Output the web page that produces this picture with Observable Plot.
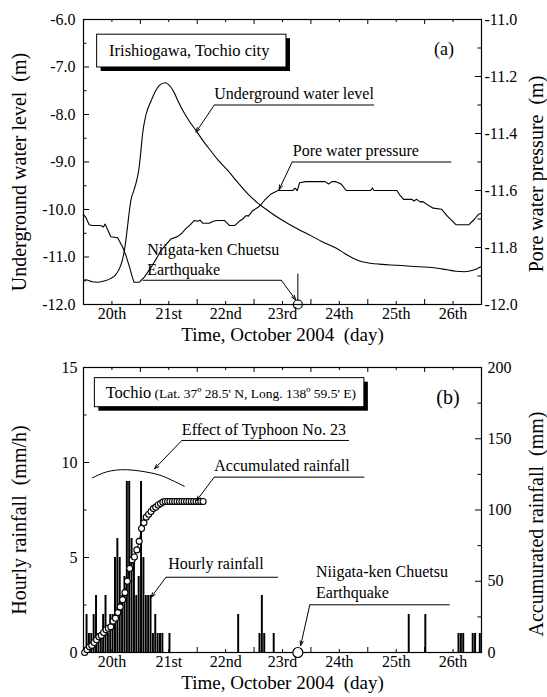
<!DOCTYPE html>
<html><head><meta charset="utf-8">
<script src="https://cdn.jsdelivr.net/npm/d3@7"></script>
<script src="https://cdn.jsdelivr.net/npm/@observablehq/plot@0.6"></script>
<style>
body{margin:0;background:#fff;}
#chart{width:547px;}
#chart svg{display:block;}
</style></head><body><div id="chart"></div>
<script>
// ---------- shared ----------
const dayLabels = ["20th","21st","22nd","23rd","24th","25th","26th"];
const eqDay = 23.77; // Niigata-ken Chuetsu Earthquake, 23 Oct 17:56

// ---------- panel (a) ----------
const gwlDay = [20.00,20.04,20.15,20.25,20.38,20.48,20.56,20.63,20.68,20.72,20.75,20.78,20.81,20.84,20.88,20.92,20.96,20.98,21.01,21.04,21.10,21.19,21.26,21.34,21.44,21.52,21.60,21.66,21.75,21.85,21.98,22.10,22.19,22.36,22.54,22.72,22.89,23.06,23.24,23.42,23.60,23.80,24.00,24.20,24.44,24.60,24.75,24.90,25.05,25.20,25.40,25.60,25.80,26.00,26.20,26.40,26.55,26.70,26.85,27.00];
const gwlLevel = [-11.49,-11.48,-11.52,-11.53,-11.50,-11.45,-11.38,-11.25,-11.08,-10.86,-10.60,-10.30,-10.00,-9.77,-9.62,-9.46,-9.25,-9.10,-8.76,-8.40,-8.00,-7.71,-7.52,-7.38,-7.33,-7.40,-7.55,-7.71,-7.92,-8.12,-8.34,-8.55,-8.69,-8.95,-9.18,-9.44,-9.67,-9.86,-10.02,-10.17,-10.30,-10.43,-10.55,-10.68,-10.81,-10.93,-11.03,-11.10,-11.13,-11.15,-11.17,-11.18,-11.20,-11.21,-11.23,-11.27,-11.30,-11.31,-11.28,-11.20];

const pwpDay = [20.00,20.04,20.10,20.16,20.30,20.35,20.38,20.42,20.48,20.60,20.69,20.75,20.81,20.86,20.89,20.98,21.03,21.07,21.19,21.28,21.36,21.45,21.54,21.66,21.73,21.80,21.88,21.95,22.01,22.05,22.10,22.21,22.28,22.36,22.48,22.53,22.57,22.66,22.74,22.80,22.86,22.90,22.98,23.07,23.12,23.18,23.30,23.42,23.68,23.72,23.76,23.80,23.91,24.25,24.31,24.37,24.44,24.53,24.62,25.05,25.08,25.11,25.51,25.56,25.63,25.78,25.81,25.86,25.92,25.97,26.05,26.15,26.30,26.40,26.55,26.78,26.88,26.95,27.00];
const pwpValue = [-11.685,-11.694,-11.720,-11.723,-11.723,-11.728,-11.718,-11.735,-11.762,-11.766,-11.799,-11.830,-11.869,-11.905,-11.922,-11.922,-11.912,-11.904,-11.869,-11.840,-11.811,-11.790,-11.770,-11.761,-11.750,-11.734,-11.720,-11.705,-11.708,-11.704,-11.715,-11.715,-11.708,-11.705,-11.705,-11.715,-11.723,-11.723,-11.708,-11.700,-11.688,-11.690,-11.670,-11.659,-11.650,-11.635,-11.612,-11.600,-11.600,-11.592,-11.600,-11.573,-11.569,-11.569,-11.577,-11.569,-11.569,-11.577,-11.600,-11.600,-11.591,-11.600,-11.600,-11.615,-11.631,-11.631,-11.637,-11.631,-11.640,-11.639,-11.650,-11.662,-11.666,-11.690,-11.720,-11.720,-11.700,-11.683,-11.680];

// ---------- panel (b) ----------
const rainHour = [1,2,3,4,5,6,7,8,9,10,11,12,13,14,15,16,17,18,19,20,21,22,23,24,25,26,27,28,29,30,31,32,33,36,65,74,75,76,80,137,144,158,159,160,164,165,167];
const rainMm   = [2,1,1,2,3,1,1,2,3,1,2,2,5,6,5,3,4,9,9,6,5,3,4,9,5,3,3,3,1,2,1,1,1,1,2,1,3,1,1,2,2,1,1,1,1,1,1];
const accHour = d3.range(0, 51);
const accMm = [0,2,4,5,7,9,11,12,14,16,17,18,22,24,28,32,37,42,50,59,65,67,72,78,87,91,95,97,99,101,102,103.5,104.5,105.5,106,106,106,106,106,106,106,106,106,106,106,106,106,106,106,106,106];

// ---------- layout ----------
const W = 547, H = 348, mL = 83, mR = 66, mT = 19, mB = 44;
const PW = W - mL - mR, PH = H - mT - mB;
const FONT = "'Liberation Serif','Times New Roman',serif";
const hourToDay = h => 20 + h / 24;

function yTicks(vals, len, side) {
  return Plot.tickY(vals, {y: d => d, stroke: "black", strokeWidth: 1,
    insetLeft: side === "right" ? PW - len : 0, insetRight: side === "left" ? PW - len : 0});
}
function xTicks(vals, len, side) {
  return Plot.tickX(vals, {x: d => d, stroke: "black", strokeWidth: 1,
    insetTop: side === "bottom" ? PH - len : 0, insetBottom: side === "top" ? PH - len : 0});
}
const xMajor = d3.range(21, 27, 1), xMinor = d3.range(20.5, 27, 1);
function xAxisMarks() {
  return [
    xTicks(xMajor, 5, "bottom"), xTicks(xMinor, 3, "bottom"),
    xTicks(xMajor, 5, "top"), xTicks(xMinor, 3, "top"),
    Plot.axisX(d3.range(20.5, 27, 1), {tickSize: 0, tickPadding: 3, label: null, fontSize: 16,
      tickFormat: d => dayLabels[Math.round(d - 20.5)]}),
    Plot.text(["Time, October 2004\u00a0 (day)"], {frameAnchor: "bottom", dy: 36, fontSize: 19})
  ];
}
function vTitle(text, side, dy) {
  return Plot.text([text], {frameAnchor: side, dx: side === "left" ? -64 : 55, dy, rotate: -90,
    textAnchor: "middle", lineAnchor: "middle", fontSize: 20});
}
function leaders(under, arrows) {
  return [
    Plot.link(under, {x1: "x1", x2: "x2", y1: "y", y2: "y", stroke: "black", strokeWidth: 1}),
    Plot.arrow(arrows, {x1: "x1", y1: "y1", x2: "x2", y2: "y2", stroke: "black", strokeWidth: 1, headLength: 7, headAngle: 40})
  ];
}

// ---------- panel (a) ----------
const toLeftA = p => -12 + (p + 12) * 6;
const fromLeftA = v => (v + 12) / 6 - 12;
const gwl = gwlDay.map((d, i) => ({x: d, y: gwlLevel[i]}));
const pwp = pwpDay.map((d, i) => ({x: d, y: toLeftA(pwpValue[i])}));
const boxA = [{x1: 20.24, x2: 23.57, y1: -7.01, y2: -6.32}];

const chartA = Plot.plot({
  width: W, height: H, marginLeft: mL, marginRight: mR, marginTop: mT, marginBottom: mB,
  style: {fontFamily: FONT, fontSize: "16px", color: "black", background: "white", overflow: "visible"},
  x: {domain: [20, 27]},
  y: {domain: [-12, -6]},
  marks: [
    Plot.line(gwl, {x: "x", y: "y", stroke: "black", strokeWidth: 1.1, curve: "monotone-x"}),
    Plot.line(pwp, {x: "x", y: "y", stroke: "black", strokeWidth: 1.1}),
    Plot.frame({stroke: "black", strokeWidth: 1.2}),
    yTicks(d3.range(-12, -5.9, 1), 6, "left"), yTicks(d3.range(-11.5, -6, 1), 3.5, "left"),
    yTicks(d3.range(0, 6).map(i => toLeftA(-12 + 0.2 * i)), 6, "right"),
    yTicks(d3.range(0, 5).map(i => toLeftA(-11.9 + 0.2 * i)), 3.5, "right"),
    Plot.axisY(d3.range(-12, -5.9, 1), {anchor: "left", tickSize: 0, tickPadding: 8, label: null, fontSize: 16, tickFormat: d => d.toFixed(1)}),
    Plot.axisY(d3.range(0, 6).map(i => toLeftA(-12 + 0.2 * i)), {anchor: "right", tickSize: 0, tickPadding: 3, label: null, fontSize: 16, tickFormat: d => fromLeftA(d).toFixed(1)}),
    ...xAxisMarks(),
    vTitle("Underground water level\u00a0 (m)", "left", 10),
    vTitle("Pore water pressure\u00a0 (m)", "right", 12),
    Plot.rect(boxA, {x1: "x1", x2: "x2", y1: "y1", y2: "y2", fill: "black", dx: 4, dy: 4}),
    Plot.rect(boxA, {x1: "x1", x2: "x2", y1: "y1", y2: "y2", fill: "white", stroke: "black", strokeWidth: 1}),
    Plot.text([{t: "Irishiogawa, Tochio city", x: 20.45, y: -6.66}], {x: "x", y: "y", text: "t", textAnchor: "start", fontSize: 16.5}),
    Plot.text([{t: "(a)", x: 26.34, y: -6.62}], {x: "x", y: "y", text: "t", fontSize: 18}),
    Plot.text([
      {t: "Underground water level", x: 22.30, y: -7.56},
      {t: "Pore water pressure", x: 23.68, y: -8.76},
      {t: "Niigata-ken Chuetsu", x: 21.12, y: -10.84},
      {t: "Earthquake", x: 21.12, y: -11.28}
    ], {x: "x", y: "y", text: "t", textAnchor: "start", fontSize: 16}),
    ...leaders(
      [{x1: 22.30, x2: 25.11, y: -7.80}, {x1: 23.67, x2: 26.47, y: -9.0}, {x1: 21.04, x2: 23.48, y: -11.49}],
      [{x1: 22.30, y1: -7.80, x2: 21.98, y2: -8.37}, {x1: 23.67, y1: -9.0, x2: 23.44, y2: -9.58}, {x1: 23.48, y1: -11.49, x2: 23.73, y2: -11.9}]
    ),
    Plot.link([{x: eqDay, y1: -11.35, y2: -11.92}], {x1: "x", x2: "x", y1: "y1", y2: "y2", stroke: "black", strokeWidth: 1}),
    Plot.dot([{x: eqDay, y: -12}], {x: "x", y: "y", r: 4.5, fill: "none", stroke: "black", strokeWidth: 1.2})
  ]
});

// ---------- panel (b) ----------
const accToLeft = mm => mm * 15 / 200;
const rain = rainHour.map((h, i) => ({x1: hourToDay(h), x2: hourToDay(h + 1), y: rainMm[i]}));
const acc = accHour.map((h, i) => ({x: hourToDay(h + 0.5), y: accToLeft(accMm[i])}));
const boxB = [{x1: 20.2, x2: 24.94, y1: 12.91, y2: 14.44}];
const typhoonArc = [{x: 20.157, y: 9.19}, {x: 20.40, y: 9.50}, {x: 20.76, y: 9.62}, {x: 21.19, y: 9.45}, {x: 21.45, y: 9.21}, {x: 21.773, y: 8.75}];

const chartB = Plot.plot({
  width: W, height: H + 1, marginLeft: mL, marginRight: mR, marginTop: mT, marginBottom: mB + 1,
  style: {fontFamily: FONT, fontSize: "16px", color: "black", background: "white", overflow: "visible"},
  x: {domain: [20, 27]},
  y: {domain: [0, 15]},
  marks: [
    Plot.rect(rain, {x1: "x1", x2: "x2", y1: 0, y2: "y", fill: "black", insetLeft: 0.2, insetRight: 0.2}),
    Plot.frame({stroke: "black", strokeWidth: 1.2}),
    yTicks([0, 5, 10, 15], 6, "left"), yTicks([2.5, 7.5, 12.5], 3.5, "left"),
    yTicks([0, 50, 100, 150, 200].map(accToLeft), 6, "right"),
    yTicks([25, 75, 125, 175].map(accToLeft), 3.5, "right"),
    Plot.axisY([0, 5, 10, 15], {anchor: "left", tickSize: 0, tickPadding: 6, label: null, fontSize: 16}),
    Plot.axisY([0, 50, 100, 150, 200].map(accToLeft), {anchor: "right", tickSize: 0, tickPadding: 6, label: null, fontSize: 16, tickFormat: d => String(Math.round(d * 200 / 15))}),
    ...xAxisMarks(),
    vTitle("Hourly rainfall\u00a0 (mm/h)", "left", 10),
    vTitle("Accumurated rainfall\u00a0 (mm)", "right", 14),
    Plot.line(acc, {x: "x", y: "y", stroke: "black", strokeWidth: 1}),
    Plot.dot(acc, {x: "x", y: "y", r: 3, fill: "white", stroke: "black", strokeWidth: 1.1}),
    Plot.line(typhoonArc, {x: "x", y: "y", stroke: "black", strokeWidth: 1, curve: "natural"}),
    Plot.rect(boxB, {x1: "x1", x2: "x2", y1: "y1", y2: "y2", fill: "black", dx: 4, dy: 4}),
    Plot.rect(boxB, {x1: "x1", x2: "x2", y1: "y1", y2: "y2", fill: "white", stroke: "black", strokeWidth: 1}),
    Plot.text([{t: "Tochio", x: 20.39, y: 13.68}], {x: "x", y: "y", text: "t", textAnchor: "start", fontSize: 16.5}),
    Plot.text([{t: "(Lat. 37º 28.5' N, Long. 138º 59.5' E)", x: 21.25, y: 13.68}], {x: "x", y: "y", text: "t", textAnchor: "start", fontSize: 13.5, dy: 1}),
    Plot.text([{t: "(b)", x: 26.41, y: 13.44}], {x: "x", y: "y", text: "t", fontSize: 20}),
    Plot.text([
      {t: "Effect of Typhoon No. 23", x: 21.73, y: 11.72},
      {t: "Accumulated rainfall", x: 22.30, y: 9.84},
      {t: "Hourly rainfall", x: 21.49, y: 4.67},
      {t: "Niigata-ken Chuetsu", x: 24.09, y: 4.23},
      {t: "Earthquake", x: 24.09, y: 3.14}
    ], {x: "x", y: "y", text: "t", textAnchor: "start", fontSize: 16}),
    ...leaders(
      [{x1: 21.73, x2: 24.67, y: 11.16}, {x1: 22.30, x2: 24.94, y: 9.23}, {x1: 21.45, x2: 23.42, y: 3.96}, {x1: 23.98, x2: 26.44, y: 2.51}],
      [{x1: 21.73, y1: 11.16, x2: 21.25, y2: 9.67}, {x1: 22.30, y1: 9.23, x2: 21.99, y2: 8.0}, {x1: 21.45, y1: 3.96, x2: 21.19, y2: 2.91}, {x1: 23.98, y1: 2.51, x2: 23.82, y2: 0.37}]
    ),
    Plot.dot([{x: eqDay, y: 0}], {x: "x", y: "y", r: 5, fill: "white", stroke: "black", strokeWidth: 1.2})
  ]
});

document.getElementById("chart").append(chartA, chartB);
</script>
</body></html>
